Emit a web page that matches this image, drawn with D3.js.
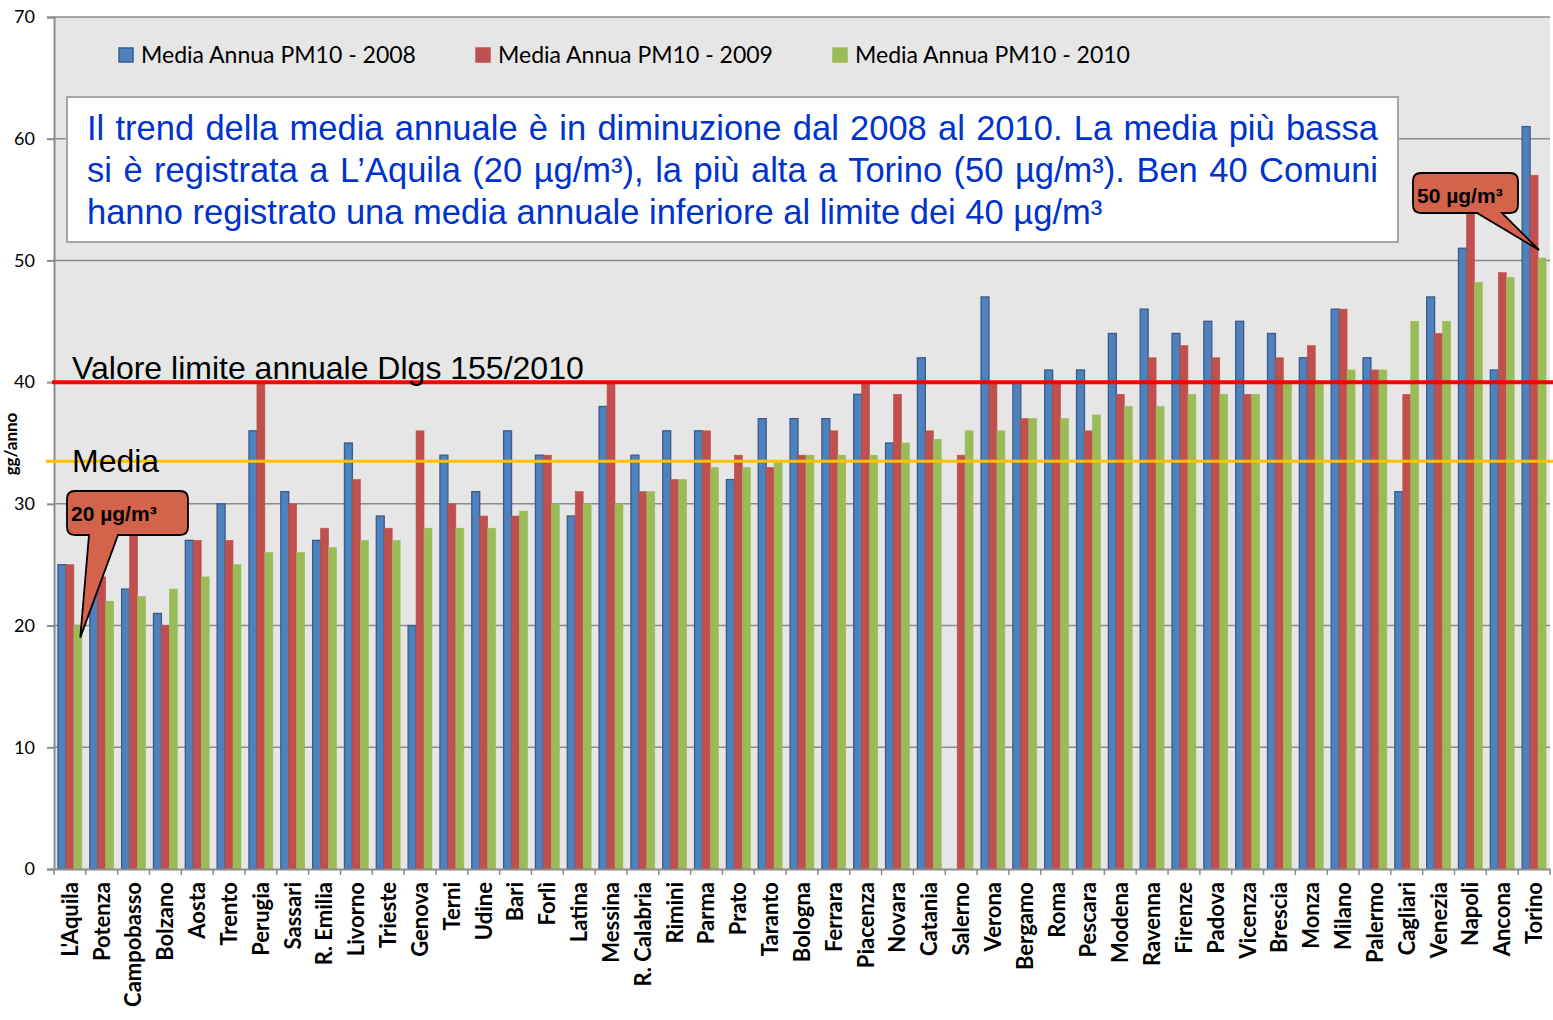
<!DOCTYPE html>
<html>
<head>
  <meta charset="utf-8">
  <title>Media annua PM10 2008-2010</title>
  <script src="https://d3js.org/d3.v7.min.js"></script>
  <style>
    body { margin: 0; background: #fff; }
    .axis text { fill: #000; font-family: Lato, "Open Sans", sans-serif; }
    .grid line { stroke: #8c8c8c; stroke-width: 1.5; }
  </style>
</head>
<body>
<script>
// categorie (comuni) ordinate per media 2010
var cities = ["L'Aquila", 'Potenza', 'Campobasso', 'Bolzano', 'Aosta', 'Trento', 'Perugia', 'Sassari',
  'R. Emilia', 'Livorno', 'Trieste', 'Genova', 'Terni', 'Udine', 'Bari', 'Forlì', 'Latina', 'Messina',
  'R. Calabria', 'Rimini', 'Parma', 'Prato', 'Taranto', 'Bologna', 'Ferrara', 'Piacenza', 'Novara',
  'Catania', 'Salerno', 'Verona', 'Bergamo', 'Roma', 'Pescara', 'Modena', 'Ravenna', 'Firenze', 'Padova',
  'Vicenza', 'Brescia', 'Monza', 'Milano', 'Palermo', 'Cagliari', 'Venezia', 'Napoli', 'Ancona', 'Torino'];

// media annua PM10 (µg/m³)
var pm2008 = [25, 24, 23, 21, 27, 30, 36, 31, 27, 35, 29, 20, 34, 31, 36, 34, 29, 38, 34, 36,
  36, 32, 37, 37, 37, 39, 35, 42, null, 47, 40, 41, 41, 44, 46, 44, 45, 45, 44, 42,
  46, 42, 31, 47, 51, 41, 61];
var pm2009 = [25, 24, 29, 20, 27, 27, 40, 30, 28, 32, 28, 36, 30, 29, 29, 34, 31, 40, 31, 32,
  36, 34, 33, 34, 36, 40, 39, 36, 34, 40, 37, 40, 36, 39, 42, 43, 42, 39, 42, 43,
  46, 41, 39, 44, 55, 49, 57];
var pm2010 = [20, 22, 22.4, 23, 24, 25, 26, 26, 26.4, 27, 27, 28, 28, 28, 29.4, 30, 30, 30, 31, 32,
  33, 33, 33.4, 34, 34, 34, 35, 35.3, 36, 36, 37, 37, 37.3, 38, 38, 39, 39, 39, 40, 40,
  41, 41, 45, 45, 48.2, 48.6, 50.2];

var seriesNames = ['Media Annua PM10 - 2008', 'Media Annua PM10 - 2009', 'Media Annua PM10 - 2010'];
var seriesColors = ['#4f81bd', '#c0504d', '#9bbb59'];
var seriesStroke = ['#385d8a', '#c0504d', '#9bbb59'];
var yTicks = [0, 10, 20, 30, 40, 50, 60, 70];

var limite = 40;      // valore limite annuale
var media = 33.5;     // media di tutti i comuni

var textLines = [
  'Il trend della media annuale è in diminuzione dal 2008 al 2010. La media più bassa',
  'si è registrata a L’Aquila (20 µg/m³), la più alta a Torino (50 µg/m³). Ben 40 Comuni',
  'hanno registrato una media annuale inferiore al limite dei 40 µg/m³'
];

var LEFT = 54, RIGHT = 1550, TOP = 17, BOTTOM = 869;

var svg = d3.select('body').append('svg')
  .attr('width', 1553)
  .attr('height', 1020);

var x = d3.scaleBand()
  .domain(cities)
  .range([LEFT, RIGHT])
  .paddingInner(0.25)
  .paddingOuter(0.125);

var xs = d3.scaleBand()
  .domain([0, 1, 2])
  .range([0, x.bandwidth()]);

var y = d3.scaleLinear()
  .domain([0, 70])
  .range([BOTTOM, TOP]);

// sfondo area del grafico
svg.append('rect')
  .attr('x', LEFT).attr('y', TOP)
  .attr('width', RIGHT - LEFT).attr('height', BOTTOM - TOP)
  .attr('fill', '#e6e6e6');

// griglia
svg.append('g').attr('class', 'grid')
  .selectAll('line').data(yTicks.filter(function(d) { return d > 0; }))
  .enter().append('line')
  .attr('x1', LEFT).attr('x2', RIGHT)
  .attr('y1', function(d) { return y(d); })
  .attr('y2', function(d) { return y(d); });

// asse Y
var yAxis = svg.append('g').attr('class', 'axis')
  .attr('transform', 'translate(' + LEFT + ',0)')
  .call(d3.axisLeft(y).tickValues(yTicks).tickSize(7).tickPadding(12));
yAxis.selectAll('text').style('font-size', '18px');
yAxis.selectAll('line, path').attr('stroke', '#8c8c8c').attr('stroke-width', 2);

// titolo asse Y
svg.append('text')
  .attr('transform', 'translate(17,444) rotate(-90)')
  .attr('text-anchor', 'middle')
  .style('font-family', 'Lato, "Open Sans", sans-serif')
  .style('font-weight', 'bold')
  .style('font-size', '17px')
  .text('gg/anno');

// barre
var series = [pm2008, pm2009, pm2010];
var barGroup = svg.append('g').attr('class', 'bars');
series.forEach(function(values, s) {
  barGroup.append('g')
    .selectAll('rect')
    .data(values.map(function(v, i) { return { city: cities[i], v: v }; })
      .filter(function(d) { return d.v != null; }))
    .enter().append('rect')
    .attr('x', function(d) { return x(d.city) + xs(s); })
    .attr('width', xs.bandwidth())
    .attr('y', function(d) { return y(d.v); })
    .attr('height', function(d) { return y(0) - y(d.v); })
    .attr('fill', seriesColors[s])
    .attr('stroke', seriesStroke[s])
    .attr('stroke-width', s === 0 ? 1.3 : 0.6);
});

// asse X
var xAxis = svg.append('g').attr('class', 'axis')
  .attr('transform', 'translate(0,' + BOTTOM + ')')
  .call(d3.axisBottom(x).tickSize(0).tickPadding(0));
xAxis.select('path').attr('stroke', '#8c8c8c').attr('stroke-width', 2);
xAxis.selectAll('.tick text')
  .attr('transform', 'rotate(-90)')
  .attr('x', -13).attr('y', 0).attr('dy', '0.36em')
  .attr('text-anchor', 'end')
  .style('font-size', '22px')
  .style('font-weight', 'bold');
// tacche ai confini delle categorie
svg.append('g').selectAll('line')
  .data(d3.range(cities.length + 1))
  .enter().append('line')
  .attr('x1', function(i) { return LEFT + i * x.step(); })
  .attr('x2', function(i) { return LEFT + i * x.step(); })
  .attr('y1', BOTTOM).attr('y2', BOTTOM + 6)
  .attr('stroke', '#8c8c8c').attr('stroke-width', 1.5);

// linea valore limite e media
svg.append('line')
  .attr('x1', LEFT - 2).attr('x2', 1553)
  .attr('y1', y(limite)).attr('y2', y(limite))
  .attr('stroke', '#ff0000').attr('stroke-width', 4);
svg.append('line')
  .attr('x1', LEFT - 8).attr('x2', 1553)
  .attr('y1', y(media)).attr('y2', y(media))
  .attr('stroke', '#ffc000').attr('stroke-width', 3);

svg.append('text')
  .attr('x', 72).attr('y', y(limite) - 3)
  .style('font-family', '"Liberation Sans", Arial, sans-serif')
  .style('font-size', '32px')
  .text('Valore limite annuale Dlgs 155/2010');
svg.append('text')
  .attr('x', 72).attr('y', y(media) + 11)
  .style('font-family', '"Liberation Sans", Arial, sans-serif')
  .style('font-size', '32px')
  .text('Media');

// legenda
var legendX = [119, 476, 833];
var legend = svg.append('g');
seriesNames.forEach(function(name, s) {
  legend.append('rect')
    .attr('x', legendX[s]).attr('y', 48)
    .attr('width', 14).attr('height', 14)
    .attr('fill', seriesColors[s])
    .attr('stroke', seriesStroke[s]).attr('stroke-width', 1.5);
  legend.append('text')
    .attr('x', legendX[s] + 22).attr('y', 63)
    .style('font-family', 'Lato, "Open Sans", sans-serif')
    .style('font-size', '23px')
    .text(name);
});

// riquadro di testo
svg.append('rect')
  .attr('x', 67).attr('y', 97)
  .attr('width', 1331).attr('height', 145)
  .attr('fill', '#fff')
  .attr('stroke', '#a6a6a6').attr('stroke-width', 2);
var boxW = 1291;
textLines.forEach(function(line, i) {
  var t = svg.append('text')
    .attr('x', 87).attr('y', 140 + i * 42)
    .style('font-family', '"Liberation Sans", Arial, sans-serif')
    .style('font-size', '34.5px')
    .attr('fill', '#0033cc')
    .text(line);
  if (i < 2) {
    var len = t.node().getComputedTextLength();
    var gaps = line.split(' ').length - 1;
    t.attr('word-spacing', Math.max(0, (boxW - len) / gaps));
  }
});

// fumetti
function callout(bx, by, w, h, r, b1, b2, tx, ty) {
  return 'M' + (bx + r) + ',' + by +
    'H' + (bx + w - r) + 'Q' + (bx + w) + ',' + by + ' ' + (bx + w) + ',' + (by + r) +
    'V' + (by + h - r) + 'Q' + (bx + w) + ',' + (by + h) + ' ' + (bx + w - r) + ',' + (by + h) +
    'H' + b2 + 'L' + tx + ',' + ty + 'L' + b1 + ',' + (by + h) +
    'H' + (bx + r) + 'Q' + bx + ',' + (by + h) + ' ' + bx + ',' + (by + h - r) +
    'V' + (by + r) + 'Q' + bx + ',' + by + ' ' + (bx + r) + ',' + by + 'Z';
}
var first = cities[0], last = cities[cities.length - 1];
var calloutData = [
  { bx: 67, by: 491, w: 121, h: 44, b1: 89, b2: 118,
    tx: x(first) + xs(2) + xs.bandwidth() * 0.8, ty: y(pm2010[0]) + 12, label: '20 µg/m³' },
  { bx: 1413, by: 173, w: 105, h: 40, b1: 1477, b2: 1502,
    tx: x(last) + xs(2) + 1, ty: y(pm2010[pm2010.length - 1]) - 8, label: '50 µg/m³' }
];
calloutData.forEach(function(c) {
  svg.append('path')
    .attr('d', callout(c.bx, c.by, c.w, c.h, 8, c.b1, c.b2, c.tx, c.ty))
    .attr('fill', '#d4634b')
    .attr('stroke', '#000').attr('stroke-width', 1.8);
  svg.append('text')
    .attr('x', c.bx + 4).attr('y', c.by + 30)
    .style('font-family', '"Liberation Sans", Arial, sans-serif')
    .style('font-weight', 'bold')
    .style('font-size', '21px')
    .text(c.label);
});
</script>
</body>
</html>
